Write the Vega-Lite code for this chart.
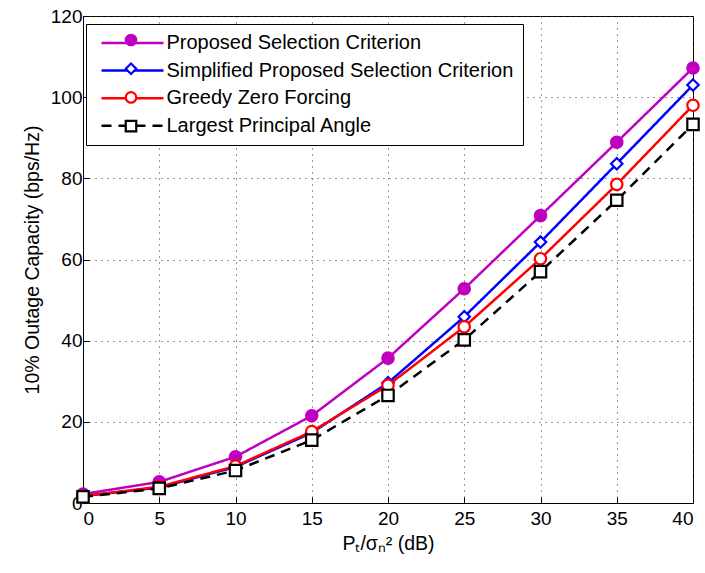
{
  "$schema": "https://vega.github.io/schema/vega-lite/v6.json",
  "width": 610,
  "height": 487,
  "autosize": "none",
  "padding": {"left": 83, "top": 16, "right": 12, "bottom": 70},
  "background": "white",
  "config": {
    "font": "Liberation Sans",
    "view": {"stroke": "black", "strokeWidth": 1}
  },
  "data": {"values": [
    {"x": 0, "s": "Proposed Selection Criterion", "y": 2.2},
    {"x": 5, "s": "Proposed Selection Criterion", "y": 5.2},
    {"x": 10, "s": "Proposed Selection Criterion", "y": 11.4},
    {"x": 15, "s": "Proposed Selection Criterion", "y": 21.5},
    {"x": 20, "s": "Proposed Selection Criterion", "y": 35.7},
    {"x": 25, "s": "Proposed Selection Criterion", "y": 52.8},
    {"x": 30, "s": "Proposed Selection Criterion", "y": 70.8},
    {"x": 35, "s": "Proposed Selection Criterion", "y": 88.9},
    {"x": 40, "s": "Proposed Selection Criterion", "y": 107.2},
    {"x": 0, "s": "Simplified Proposed Selection Criterion", "y": 1.7},
    {"x": 5, "s": "Simplified Proposed Selection Criterion", "y": 3.8},
    {"x": 10, "s": "Simplified Proposed Selection Criterion", "y": 8.9},
    {"x": 15, "s": "Simplified Proposed Selection Criterion", "y": 17.3},
    {"x": 20, "s": "Simplified Proposed Selection Criterion", "y": 29.6},
    {"x": 25, "s": "Simplified Proposed Selection Criterion", "y": 45.9},
    {"x": 30, "s": "Simplified Proposed Selection Criterion", "y": 64.3},
    {"x": 35, "s": "Simplified Proposed Selection Criterion", "y": 83.6},
    {"x": 40, "s": "Simplified Proposed Selection Criterion", "y": 103.0},
    {"x": 0, "s": "Greedy Zero Forcing", "y": 1.7},
    {"x": 5, "s": "Greedy Zero Forcing", "y": 4.0},
    {"x": 10, "s": "Greedy Zero Forcing", "y": 9.1},
    {"x": 15, "s": "Greedy Zero Forcing", "y": 17.6},
    {"x": 20, "s": "Greedy Zero Forcing", "y": 29.0},
    {"x": 25, "s": "Greedy Zero Forcing", "y": 43.4},
    {"x": 30, "s": "Greedy Zero Forcing", "y": 60.2},
    {"x": 35, "s": "Greedy Zero Forcing", "y": 78.5},
    {"x": 40, "s": "Greedy Zero Forcing", "y": 98.0},
    {"x": 0, "s": "Largest Principal Angle", "y": 1.5},
    {"x": 5, "s": "Largest Principal Angle", "y": 3.6},
    {"x": 10, "s": "Largest Principal Angle", "y": 8.0},
    {"x": 15, "s": "Largest Principal Angle", "y": 15.5},
    {"x": 20, "s": "Largest Principal Angle", "y": 26.5},
    {"x": 25, "s": "Largest Principal Angle", "y": 40.2},
    {"x": 30, "s": "Largest Principal Angle", "y": 57.0},
    {"x": 35, "s": "Largest Principal Angle", "y": 74.6},
    {"x": 40, "s": "Largest Principal Angle", "y": 93.3}
  ]},
  "resolve": {"legend": {"color": "independent", "strokeDash": "independent", "shape": "independent", "fill": "independent"}},
  "layer": [
    {
      "mark": {"type": "line", "strokeWidth": 2.5},
      "encoding": {
        "x": {"field": "x", "type": "quantitative", "scale": {"domain": [0, 40], "nice": false},
              "axis": {"values": [0,5,10,15,20,25,30,35,40], "title": "Pₜ/σₙ² (dB)", "titlePadding": 6,
                       "labelFont": "Liberation Sans", "titleFont": "Liberation Sans", "labelFontSize": 19, "titleFontSize": 19.5,
                       "labelColor": "black", "titleColor": "black", "titleFontWeight": "normal",
                       "domainColor": "black", "tickColor": "black", "tickSize": -6, "labelPadding": 12,
                       "grid": true, "gridColor": "#333", "gridDash": [1, 5], "gridWidth": 1}},
        "y": {"field": "y", "type": "quantitative", "scale": {"domain": [0, 120], "nice": false},
              "axis": {"values": [0,20,40,60,80,100,120], "title": "10% Outage Capacity (bps/Hz)", "titlePadding": 8,
                       "labelFont": "Liberation Sans", "titleFont": "Liberation Sans", "labelFontSize": 19, "titleFontSize": 19.5,
                       "labelColor": "black", "titleColor": "black", "titleFontWeight": "normal",
                       "domainColor": "black", "tickColor": "black", "tickSize": -6, "labelPadding": 7,
                       "grid": true, "gridColor": "#333", "gridDash": [1, 5], "gridWidth": 1}},
        "color": {"field": "s", "type": "nominal",
          "scale": {"domain": ["Proposed Selection Criterion", "Simplified Proposed Selection Criterion", "Greedy Zero Forcing", "Largest Principal Angle"],
                    "range": ["#BF00BF", "#0000FF", "#FF0000", "#000000"]},
          "legend": {
            "title": null, "orient": "none", "legendX": 3, "legendY": 8,
            "strokeColor": "black", "padding": 9, "fillColor": "white",
            "labelFont": "Liberation Sans", "labelFontSize": 20, "labelColor": "black", "labelLimit": 600,
            "symbolType": "M-6.2,0H6.2", "symbolStrokeWidth": 2.5, "symbolSize": 100, "symbolOffset": 27.5,
            "rowPadding": 7.6, "labelOffset": 24
          }},
        "strokeDash": {"field": "s", "type": "nominal",
          "scale": {"domain": ["Proposed Selection Criterion", "Simplified Proposed Selection Criterion", "Greedy Zero Forcing", "Largest Principal Angle"],
                    "range": [[1,0],[1,0],[1,0],[10,7]]},
          "legend": {
            "title": null, "orient": "none", "legendX": 3, "legendY": 8,
            "strokeColor": "black", "padding": 9, "fillColor": "white",
            "labelFont": "Liberation Sans", "labelFontSize": 20, "labelColor": "black", "labelLimit": 600,
            "symbolType": "M-6.2,0H6.2", "symbolStrokeWidth": 2.5, "symbolSize": 100, "symbolOffset": 27.5,
            "rowPadding": 7.6, "labelOffset": 24
          }}
      }
    },
    {
      "mark": {"type": "point", "strokeWidth": 2.2, "opacity": 1},
      "encoding": {
        "x": {"field": "x", "type": "quantitative"},
        "y": {"field": "y", "type": "quantitative"},
        "color": {"field": "s", "type": "nominal",
          "legend": {
            "title": null, "orient": "none", "legendX": 32, "legendY": 8,
            "padding": 7.5,
            "labelFont": "Liberation Sans", "labelFontSize": 17, "labelExpr": "' '", "labelLimit": 600,
            "symbolStrokeWidth": 2.2, "symbolSize": 110, "rowPadding": 7.7, "labelOffset": 7
          }},
        "shape": {"field": "s", "type": "nominal",
          "scale": {"domain": ["Proposed Selection Criterion", "Simplified Proposed Selection Criterion", "Greedy Zero Forcing", "Largest Principal Angle"],
                    "range": ["circle", "diamond", "circle", "square"]},
          "legend": {
            "title": null, "orient": "none", "legendX": 32, "legendY": 8,
            "padding": 7.5,
            "labelFont": "Liberation Sans", "labelFontSize": 17, "labelExpr": "' '", "labelLimit": 600,
            "symbolStrokeWidth": 2.2, "symbolSize": 110, "rowPadding": 7.7, "labelOffset": 7
          }},
        "fill": {"field": "s", "type": "nominal",
          "scale": {"domain": ["Proposed Selection Criterion", "Simplified Proposed Selection Criterion", "Greedy Zero Forcing", "Largest Principal Angle"],
                    "range": ["#BF00BF", "white", "white", "white"]},
          "legend": {
            "title": null, "orient": "none", "legendX": 32, "legendY": 8,
            "padding": 7.5,
            "labelFont": "Liberation Sans", "labelFontSize": 17, "labelExpr": "' '", "labelLimit": 600,
            "symbolStrokeWidth": 2.2, "symbolSize": 110, "rowPadding": 7.7, "labelOffset": 7
          }},
        "size": {"value": 130}
      }
    }
  ]
}
